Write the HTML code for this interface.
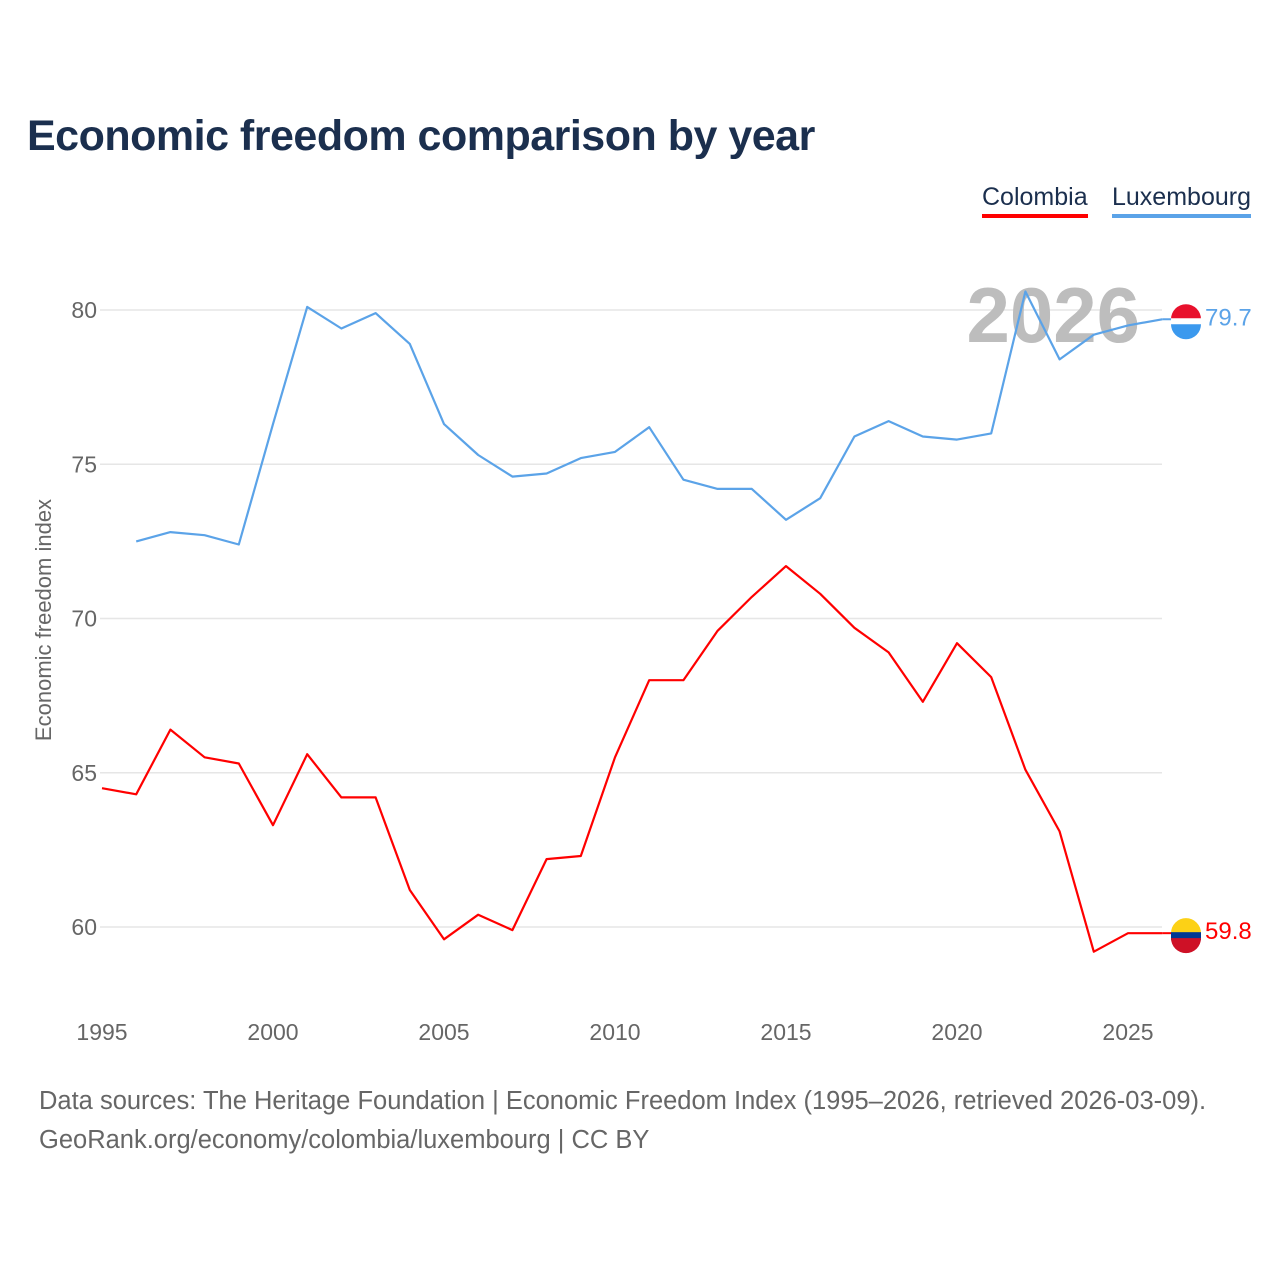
<!DOCTYPE html>
<html><head><meta charset="utf-8">
<style>
html,body{margin:0;padding:0;background:#fff;}
body{width:1280px;height:1280px;position:relative;font-family:"Liberation Sans",sans-serif;overflow:hidden;}
.title{position:absolute;left:27px;top:112px;font-size:43px;font-weight:bold;color:#1b2f4e;letter-spacing:-0.5px;}
.legend{position:absolute;top:183px;font-size:25px;color:#1b2f4e;padding-bottom:2px;}
.src{position:absolute;left:39px;font-size:25.5px;color:#666;}
</style></head>
<body>
<div class="title">Economic freedom comparison by year</div>
<div class="legend" style="left:982px;border-bottom:4px solid #ff0000;">Colombia</div>
<div class="legend" style="left:1112px;border-bottom:4px solid #5ba3e8;">Luxembourg</div>
<svg id="chart" width="1280" height="1280" style="position:absolute;left:0;top:0"></svg>
<div class="src" style="top:1087px">Data sources: The Heritage Foundation | Economic Freedom Index (1995–2026, retrieved 2026-03-09).</div>
<div class="src" style="top:1126px">GeoRank.org/economy/colombia/luxembourg | CC BY</div>
<script>
const years=[1995,1996,1997,1998,1999,2000,2001,2002,2003,2004,2005,2006,2007,2008,2009,2010,2011,2012,2013,2014,2015,2016,2017,2018,2019,2020,2021,2022,2023,2024,2025,2026];
const colombia=[64.5,64.3,66.4,65.5,65.3,63.3,65.6,64.2,64.2,61.2,59.6,60.4,59.9,62.2,62.3,65.5,68.0,68.0,69.6,70.7,71.7,70.8,69.7,68.9,67.3,69.2,68.1,65.1,63.1,59.2,59.8,59.8];
const luxembourg=[null,72.5,72.8,72.7,72.4,76.3,80.1,79.4,79.9,78.9,76.3,75.3,74.6,74.7,75.2,75.4,76.2,74.5,74.2,74.2,73.2,73.9,75.9,76.4,75.9,75.8,76.0,80.6,78.4,79.2,79.5,79.7];
const yTicks=[60,65,70,75,80];
const xTicks=[1995,2000,2005,2010,2015,2020,2025];
const NS="http://www.w3.org/2000/svg";
const svg=document.getElementById('chart');
const X=v=>102+(v-1995)*(1128-102)/30;
const Y=v=>927-(v-60)*(927-310)/20;
function mk(t,a){const e=document.createElementNS(NS,t);for(const k in a)e.setAttribute(k,a[k]);svg.appendChild(e);return e;}
yTicks.forEach(v=>{
  const g=mk('line',{x1:100,x2:1162,y1:Y(v),y2:Y(v),stroke:'#e6e6e6','stroke-width':1.5});
  
  
  const t=mk('text',{x:97,y:Y(v)+8,'text-anchor':'end','font-size':23,fill:'#666','font-family':'Liberation Sans, sans-serif'});
  t.textContent=v;
  
  
});
xTicks.forEach(v=>{
  const t=mk('text',{x:X(v),y:1040,'text-anchor':'middle','font-size':23,fill:'#666','font-family':'Liberation Sans, sans-serif'});
  t.textContent=v;
  
  
});
const yt=mk('text',{transform:'translate(51,620) rotate(-90)','text-anchor':'middle','font-size':22,fill:'#666','font-family':'Liberation Sans, sans-serif'});
yt.textContent='Economic freedom index';


const yr=mk('text',{x:1140,y:342,'text-anchor':'end','font-size':78,'font-weight':'bold',fill:'#bdbdbd','font-family':'Liberation Sans, sans-serif'});
yr.textContent='2026';


function line(data,color,name){
  let d='';
  data.forEach((v,i)=>{if(v==null)return;d+=(d?'L':'M')+X(years[i]).toFixed(1)+','+Y(v).toFixed(1);});
  const p=mk('path',{d:d,fill:'none',stroke:color,'stroke-width':2.2,'stroke-linejoin':'round'});
  
  
}
line(luxembourg,'#5ba3e8','line-luxembourg');
line(colombia,'#ff0000','line-colombia');
function endLabel(data,color,c1,c2,c3,name){
  const v=data[data.length-1], y=Y(v);
  mk('line',{x1:X(2026),x2:1175,y1:y,y2:y,stroke:color,'stroke-width':2});
  const cx=1186;
  mk('path',{d:`M${cx-15},${y} A15,15 0 0 1 ${cx+15},${y} Z`,fill:c1});
  mk('rect',{x:cx-15,y:y-1,width:30,height:8,fill:c2});
  mk('path',{d:`M${cx-15},${y+5} A15,15 0 0 0 ${cx+15},${y+5} Z`,fill:c3});
  const t=mk('text',{x:1205,y:y+6,'font-size':24,fill:color,'font-family':'Liberation Sans, sans-serif'});
  t.textContent=v.toFixed(1);
  
  
}
endLabel(luxembourg,'#5ba3e8','#e8112d','#ffffff','#3b99ee','end-label-luxembourg');
endLabel(colombia,'#ff0000','#fcd116','#003893','#ce1126','end-label-colombia');
</script>
</body></html>
